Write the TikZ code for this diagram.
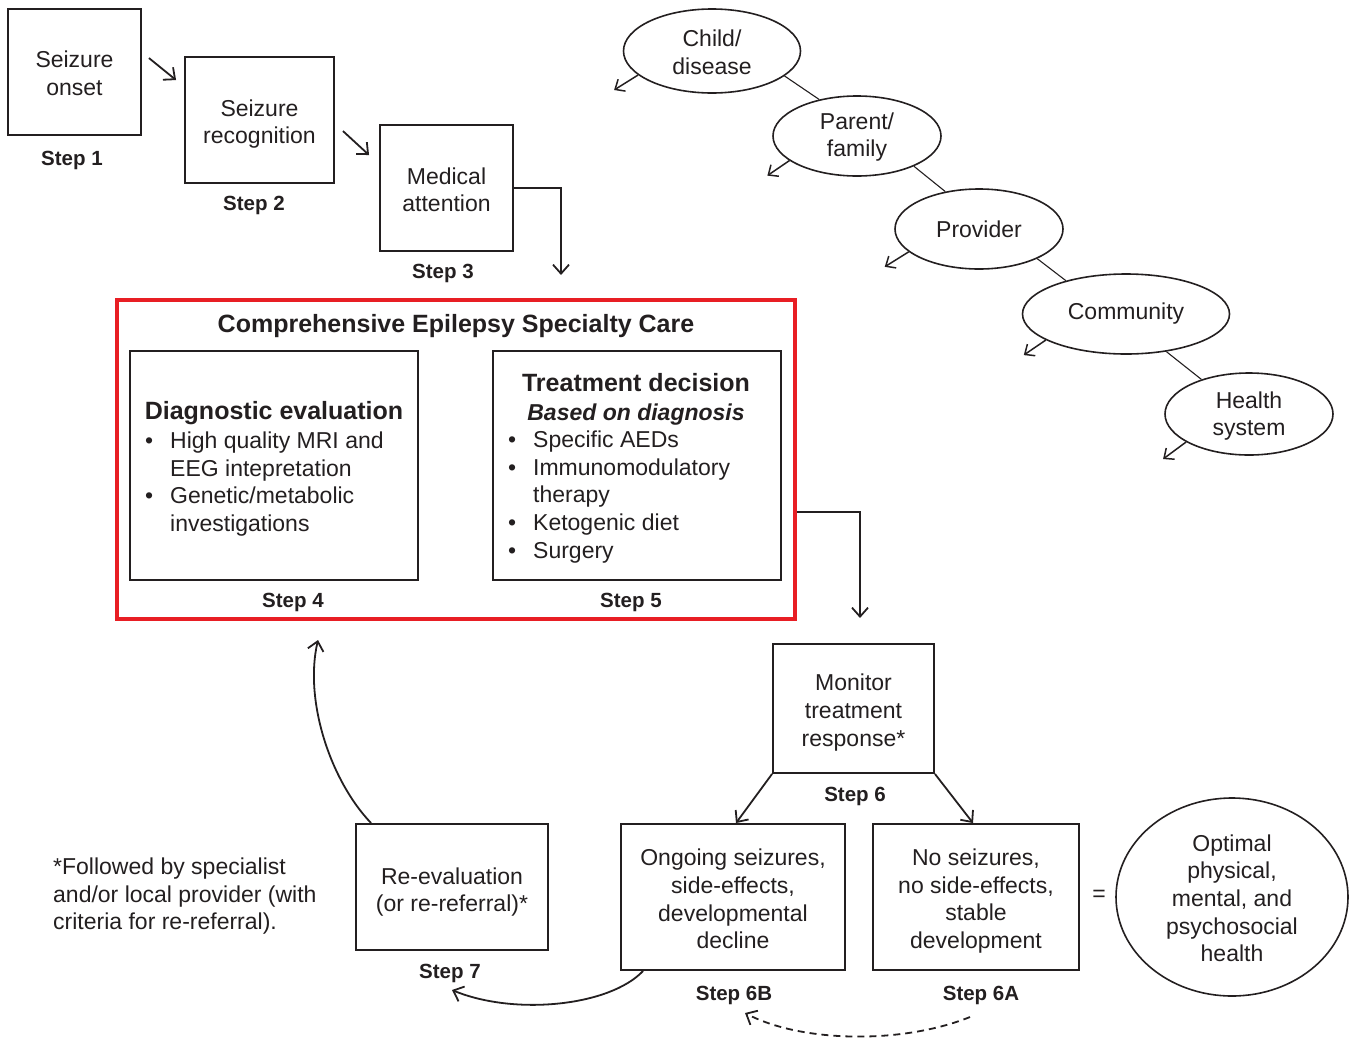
\documentclass[tikz,border=0pt]{standalone}
\usepackage{fontspec}
\setmainfont{Liberation Sans}
\usetikzlibrary{arrows.meta,shapes.geometric,calc}
\definecolor{inkc}{RGB}{35,31,32}
\definecolor{redc}{RGB}{232,30,36}
\newcommand\mydn[1]{\rule{0pt}{#1pt}}
\begin{document}
\begin{tikzpicture}[x=1pt,y=-1pt,
  every node/.style={text=inkc},
  body/.style={font=\fontsize{23}{27.7}\selectfont},
  box/.style={draw=inkc, line width=1.9pt, inner sep=0pt, align=center, body},
  steplbl/.style={font=\fontsize{20.5}{24}\selectfont\bfseries, anchor=base, inner sep=0pt},
  head/.style={font=\fontsize{25}{28}\selectfont\bfseries, anchor=base, inner sep=0pt},
  oval/.style={draw=inkc, ellipse, line width=1.6pt, inner sep=0pt, align=center, body},
  arr/.style={draw=inkc, line width=1.8pt, -{Straight Barb[length=9pt,width=16pt,line width=1.8pt]}},
  sarr/.style={draw=inkc, line width=1.5pt, -{Straight Barb[length=8pt,width=14pt,line width=1.5pt]}},
  link/.style={draw=inkc, line width=1.1pt},
  lst/.style={body, align=left, anchor=north west, inner sep=0pt},
]
\useasboundingbox (0,0) rectangle (1351,1039);

% --- steps 1-3
\node[box, minimum width=133pt, minimum height=126pt] (b1) at (74.5,72) {\mydn{19}Seizure\\onset};
\node[steplbl] (s1) at (72,165) {Step 1};
\node[box, minimum width=149pt, minimum height=126pt] (b2) at (259.5,120) {\mydn{25}Seizure\\recognition};
\node[steplbl] (s2) at (254,210) {Step 2};
\node[box, minimum width=133pt, minimum height=126pt] (b3) at (446.5,188) {\mydn{20}Medical\\attention};
\node[steplbl] (s3) at (443,278) {Step 3};

\draw[arr] ($(b1.north east)+(7,50)$) -- ($(b2.north west)+(-8,24)$);
\draw[arr] ($(b2.north east)+(8,75)$) -- ($(b3.north west)+(-10,31)$);
\coordinate (c3) at (561,275);
\draw[arr] (b3.east) -| (c3);

% --- comprehensive care
\node[draw=redc, line width=3.5pt, minimum width=678pt, minimum height=319pt, inner sep=0pt] (red) at (456,459.5) {};
\node[head] (title) at (456,332) {Comprehensive Epilepsy Specialty Care};

\node[box, minimum width=288pt, minimum height=229pt] (diag) at (274,465.5) {};
\node[head] (diagh) at (274,419.5) {Diagnostic evaluation};
\node[lst] (diagl) at (145,431.5) {\makebox[25pt][l]{\textbullet}High quality MRI and\\
\hspace*{25pt}EEG intepretation\\
\makebox[25pt][l]{\textbullet}Genetic/metabolic\\
\hspace*{25pt}investigations};
\node[steplbl] (s4) at (293,607) {Step 4};

\node[box, minimum width=288pt, minimum height=229pt] (treat) at (637,465.5) {};
\node[head] (treath) at (636,391.5) {Treatment decision};
\node[font=\fontsize{23}{27}\selectfont\bfseries\itshape, anchor=base, inner sep=0pt] (treatb) at (636,420) {Based on diagnosis};
\node[lst] (treatl) at (508,430.5) {\makebox[25pt][l]{\textbullet}Specific AEDs\\
\makebox[25pt][l]{\textbullet}Immunomodulatory\\
\hspace*{25pt}therapy\\
\makebox[25pt][l]{\textbullet}Ketogenic diet\\
\makebox[25pt][l]{\textbullet}Surgery};
\node[steplbl] (s5) at (631,607) {Step 5};

\coordinate (c5) at (860,618);
\draw[arr] ($(red.east)+(0,52.5)$) -| (c5);

% --- monitoring
\node[box, minimum width=161pt, minimum height=129pt] (mon) at (853.5,708.5) {\mydn{25}Monitor\\treatment\\response*};
\node[steplbl] (s6) at (855,801) {Step 6};

\node[box, minimum width=224pt, minimum height=146pt] (b6B) at (733,897) {\mydn{21}Ongoing seizures,\\side-effects,\\developmental\\decline};
\node[steplbl] (s6b) at (734,1000) {Step 6B};
\node[box, minimum width=206pt, minimum height=146pt] (b6A) at (976,897) {\mydn{25}No seizures,\\no side-effects,\\stable\\development};
\node[steplbl] (s6a) at (981,1000) {Step 6A};

\draw[arr] (mon.south west) -- ([xshift=3pt]b6B.north);
\draw[arr] (mon.south east) -- ([xshift=-3pt]b6A.north);

\node[body, inner sep=0pt] (eq) at (1099,896) {=};
\node[oval, minimum width=232pt, minimum height=198pt] (opt) at (1232,897) {\mydn{19}Optimal\\physical,\\mental, and\\psychosocial\\health};

\node[box, minimum width=192pt, minimum height=126pt] (reev) at (452,887) {\mydn{27}Re-evaluation\\(or re-referral)*};
\node[steplbl] (s7) at (450,978) {Step 7};

\coordinate (c4) at (318,640);
\draw[arr] ([xshift=16pt]reev.north west) .. controls (330,780) and (304,700) .. (c4);
\coordinate (c7) at (452,990);
\draw[arr] ([xshift=23pt]b6B.south west) .. controls (610,1006) and (515,1016) .. (c7);
\coordinate (c6a) at (970,1017);
\coordinate (c6b) at (745,1013);
\draw[arr, dashed, dash pattern=on 7pt off 5pt] (c6a) .. controls (900,1045) and (800,1042) .. (c6b);

\node[body, align=left, anchor=north west, inner sep=0pt] (note) at (53,857.5) {*Followed by specialist\\and/or local provider (with\\criteria for re-referral).};

% --- ecological levels
\node[oval, minimum width=177pt, minimum height=84pt] (child) at (712,51) {\mydn{19}Child/\\disease};
\node[oval, minimum width=168pt, minimum height=80pt] (parent) at (857,136) {\mydn{19}Parent/\\family};
\node[oval, minimum width=168pt, minimum height=80pt] (prov) at (979,229) {Provider};
\node[oval, minimum width=207pt, minimum height=80pt] (comm) at (1126,314) {Community};
\node[oval, minimum width=168pt, minimum height=82pt] (hs) at (1249,414) {\mydn{21}Health\\system};

\draw[link] (child.-19) -- (parent.136);
\draw[link] (parent.-28) -- (prov.132);
\draw[link] (prov.-27) -- (comm.151);
\draw[link] (comm.-43) -- (hs.144);

\draw[sarr] (child.198) -- ++(-24,15);
\draw[sarr] (parent.200) -- ++(-22,15);
\draw[sarr] (prov.198) -- ++(-24,15);
\draw[sarr] (comm.198) -- ++(-22,15);
\draw[sarr] (hs.204) -- ++(-23,17);
\end{tikzpicture}
\end{document}
